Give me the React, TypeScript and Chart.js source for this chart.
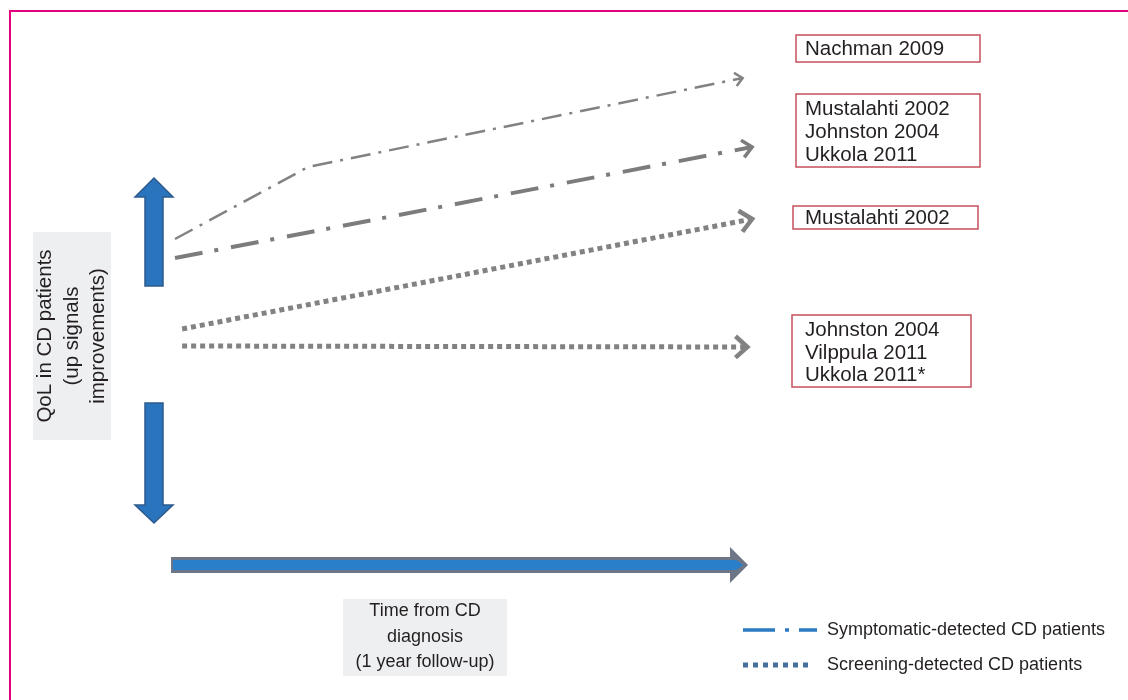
import React, { useEffect, useRef } from "react";
import { Chart, registerables } from "chart.js";

Chart.register(...registerables);

// x: months since CD diagnosis (1-year follow-up); y: QoL change (arbitrary units, 0 = no change)
const nachmanMonths = [0, 2.8, 11.95];
const nachmanQoL = [10.7, 17.9, 26.8];
const symptomaticMonths = [0, 12.15];
const symptomaticQoL = [8.8, 19.9];
const screeningUpMonths = [0.15, 12.15];
const screeningUpQoL = [1.7, 12.7];
const screeningFlatMonths = [0.15, 12.05];
const screeningFlatQoL = [0, -0.1];

const seriesNames = ["Nachman 2009", "Mustalahti/Johnston/Ukkola", "Mustalahti 2002", "Johnston/Vilppula/Ukkola"];
const studyLabels = [
  ["Nachman 2009"],
  ["Mustalahti 2002", "Johnston 2004", "Ukkola 2011"],
  ["Mustalahti 2002"],
  ["Johnston 2004", "Vilppula 2011", "Ukkola 2011*"],
];
const legendLabels = ["Symptomatic-detected CD patients", "Screening-detected CD patients"];
const yAxisTitle = ["QoL in CD patients", "(up signals", "improvements)"];
const xAxisTitle = ["Time from CD", "diagnosis", "(1 year follow-up)"];

const FONT = '"Liberation Sans", Arial, Helvetica, sans-serif';
const TEXT = "#231f20";
const GRAY = "#828282";

const toPoints = (xs: number[], ys: number[]) => xs.map((x, i) => ({ x, y: ys[i] }));

// label box layout (pixels)
const labelBoxes = [
  { x: 796, y: 35, w: 184, h: 27, lines: [49] },
  { x: 796, y: 94, w: 184, h: 73, lines: [109, 132, 155] },
  { x: 793, y: 206, w: 185, h: 23, lines: [218] },
  { x: 792, y: 315, w: 179, h: 72, lines: [330, 353, 375] },
];

function blueVArrow(ctx: CanvasRenderingContext2D, cx: number, tail: number, headBase: number, tip: number) {
  const sw = 9, hw = 19;
  ctx.beginPath();
  ctx.moveTo(cx - sw, tail);
  ctx.lineTo(cx - sw, headBase);
  ctx.lineTo(cx - hw, headBase);
  ctx.lineTo(cx, tip);
  ctx.lineTo(cx + hw, headBase);
  ctx.lineTo(cx + sw, headBase);
  ctx.lineTo(cx + sw, tail);
  ctx.closePath();
  ctx.fillStyle = "#2a74bd";
  ctx.fill();
  ctx.lineWidth = 1.5;
  ctx.strokeStyle = "#2d5a8c";
  ctx.stroke();
}

const decorPlugin = {
  id: "decor",
  beforeDraw(chart: any) {
    const ctx: CanvasRenderingContext2D = chart.ctx;
    ctx.save();
    ctx.fillStyle = "#ffffff";
    ctx.fillRect(0, 0, chart.width, chart.height);
    // magenta frame (top & left)
    ctx.fillStyle = "#e4007c";
    ctx.fillRect(9, 10, chart.width - 9, 2);
    ctx.fillRect(9, 10, 2, chart.height - 10);

    // vertical blue arrows
    blueVArrow(ctx, 154, 286, 197, 178);
    blueVArrow(ctx, 154, 403, 505, 523);

    // horizontal time arrow
    ctx.beginPath();
    ctx.moveTo(171, 557);
    ctx.lineTo(730, 557);
    ctx.lineTo(730, 547);
    ctx.lineTo(748, 565);
    ctx.lineTo(730, 583);
    ctx.lineTo(730, 573);
    ctx.lineTo(171, 573);
    ctx.closePath();
    ctx.fillStyle = "#6c7686";
    ctx.fill();
    ctx.beginPath();
    ctx.moveTo(173, 560);
    ctx.lineTo(736, 560);
    ctx.lineTo(743, 565);
    ctx.lineTo(736, 570);
    ctx.lineTo(173, 570);
    ctx.closePath();
    ctx.fillStyle = "#2a7fca";
    ctx.fill();

    // y axis title box
    ctx.fillStyle = "#eeeff1";
    ctx.fillRect(33, 232, 78, 208);
    ctx.save();
    ctx.translate(72, 336);
    ctx.rotate(-Math.PI / 2);
    ctx.fillStyle = TEXT;
    ctx.font = `20.5px ${FONT}`;
    ctx.textAlign = "center";
    ctx.textBaseline = "middle";
    [-27, 0, 26].forEach((off, i) => ctx.fillText(yAxisTitle[i], 0, off));
    ctx.restore();

    // x axis title box
    ctx.fillStyle = "#eeeff1";
    ctx.fillRect(343, 599, 164, 77);
    ctx.fillStyle = TEXT;
    ctx.font = `18px ${FONT}`;
    ctx.textAlign = "center";
    ctx.textBaseline = "middle";
    [611, 637, 662].forEach((y, i) => ctx.fillText(xAxisTitle[i], 425, y));

    // study label boxes
    ctx.font = `20.5px ${FONT}`;
    ctx.textAlign = "left";
    labelBoxes.forEach((b, bi) => {
      ctx.fillStyle = "#ffffff";
      ctx.fillRect(b.x, b.y, b.w, b.h);
      ctx.strokeStyle = "#c4505c";
      ctx.lineWidth = 1.5;
      ctx.strokeRect(b.x, b.y, b.w, b.h);
      ctx.fillStyle = TEXT;
      studyLabels[bi].forEach((t, li) => ctx.fillText(t, 805, b.lines[li]));
    });

    // legend
    ctx.strokeStyle = "#2b7bc3";
    ctx.lineWidth = 3.5;
    ctx.setLineDash([32, 10, 4, 10, 18, 200]);
    ctx.beginPath();
    ctx.moveTo(743, 630);
    ctx.lineTo(817, 630);
    ctx.stroke();
    ctx.setLineDash([5, 5]);
    ctx.strokeStyle = "#47709e";
    ctx.lineWidth = 5;
    ctx.beginPath();
    ctx.moveTo(743, 665);
    ctx.lineTo(813, 665);
    ctx.stroke();
    ctx.setLineDash([]);
    ctx.fillStyle = TEXT;
    ctx.font = `18px ${FONT}`;
    ctx.textBaseline = "middle";
    ctx.fillText(legendLabels[0], 827, 630);
    ctx.fillText(legendLabels[1], 827, 665);
    ctx.restore();
  },
  afterDatasetsDraw(chart: any) {
    const ctx: CanvasRenderingContext2D = chart.ctx;
    ctx.save();
    chart.data.datasets.forEach((ds: any, i: number) => {
      const meta = chart.getDatasetMeta(i);
      const pts = meta.data;
      const a = pts[pts.length - 2];
      const b = pts[pts.length - 1];
      const ang = Math.atan2(b.y - a.y, b.x - a.x);
      const L = ds.arrowLen;
      const spread = (42 * Math.PI) / 180;
      ctx.strokeStyle = ds.borderColor;
      ctx.lineWidth = ds.arrowWidth;
      ctx.lineCap = "butt";
      ctx.lineJoin = "miter";
      ctx.setLineDash([]);
      ctx.beginPath();
      ctx.moveTo(b.x - L * Math.cos(ang - spread), b.y - L * Math.sin(ang - spread));
      ctx.lineTo(b.x, b.y);
      ctx.lineTo(b.x - L * Math.cos(ang + spread), b.y - L * Math.sin(ang + spread));
      ctx.stroke();
    });
    ctx.restore();
  },
};

export default function App() {
  const canvasRef = useRef<HTMLCanvasElement | null>(null);

  useEffect(() => {
    if (!canvasRef.current) return;
    const chart = new Chart(canvasRef.current, {
      type: "line",
      data: {
        datasets: [
          {
            label: seriesNames[0],
            data: toPoints(nachmanMonths, nachmanQoL),
            borderColor: GRAY,
            borderWidth: 2.5,
            borderDash: [20, 8, 3, 8],
            arrowLen: 10,
            arrowWidth: 2.5,
          },
          {
            label: seriesNames[1],
            data: toPoints(symptomaticMonths, symptomaticQoL),
            borderColor: "#7c7c7c",
            borderWidth: 4,
            borderDash: [28, 12, 4, 13],
            arrowLen: 13,
            arrowWidth: 3.5,
          },
          {
            label: seriesNames[2],
            data: toPoints(screeningUpMonths, screeningUpQoL),
            borderColor: GRAY,
            borderWidth: 5,
            borderDash: [5, 4],
            arrowLen: 16,
            arrowWidth: 4.5,
          },
          {
            label: seriesNames[3],
            data: toPoints(screeningFlatMonths, screeningFlatQoL),
            borderColor: GRAY,
            borderWidth: 5,
            borderDash: [5, 4],
            arrowLen: 16,
            arrowWidth: 4.5,
          },
        ] as any,
      },
      options: {
        animation: false,
        responsive: false,
        devicePixelRatio: 1,
        layout: { padding: 0 },
        elements: {
          point: { radius: 0, hoverRadius: 0 },
          line: { tension: 0, fill: false, borderCapStyle: "butt" },
        },
        plugins: { legend: { display: false }, tooltip: { enabled: false } },
        events: [],
        scales: {
          x: { type: "linear", display: false, min: -175 / 47.5, max: -175 / 47.5 + 1128 / 47.5 },
          y: { type: "linear", display: false, min: -35.4, max: 34.6 },
        },
      },
      plugins: [decorPlugin],
    });
    return () => chart.destroy();
  }, []);

  return (
    <div style={{ position: "absolute", left: 0, top: 0, width: 1128, height: 700, background: "#fff" }}>
      <canvas ref={canvasRef} width={1128} height={700} />
    </div>
  );
}
